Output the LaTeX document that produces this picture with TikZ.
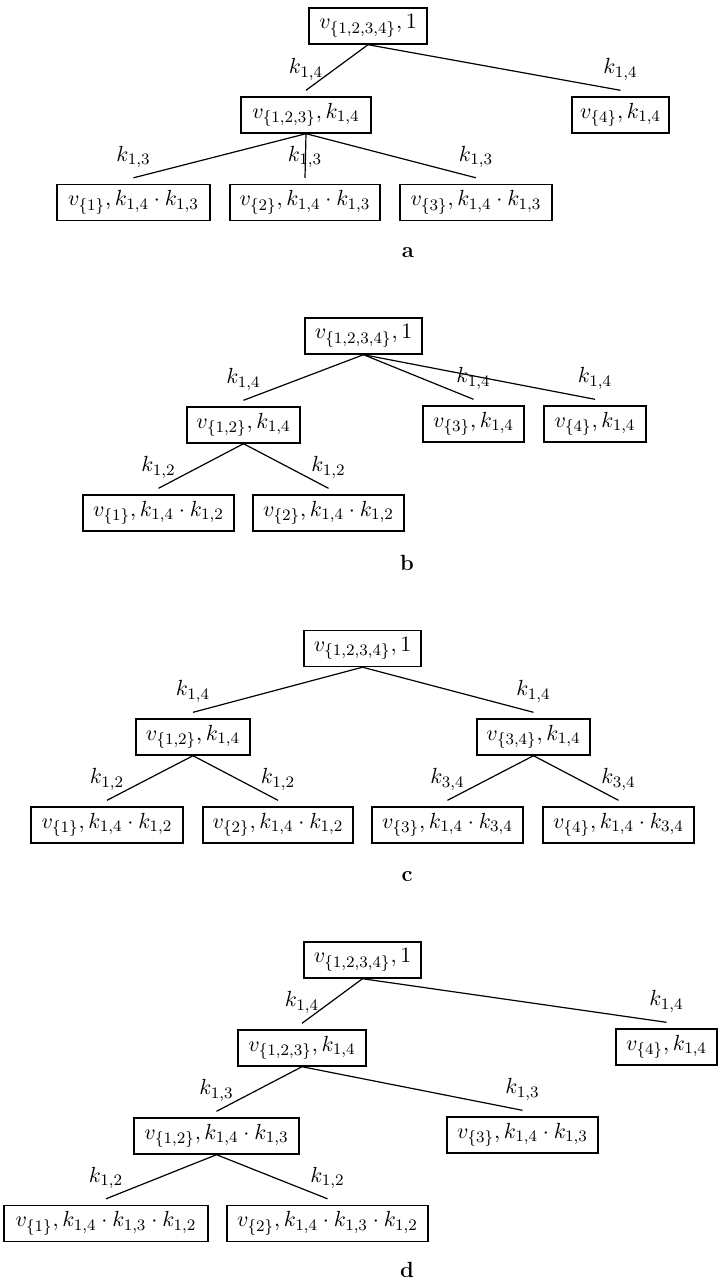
\documentclass[tikz,border=0pt]{standalone}
\usepackage{amsmath}
\newcommand\treeedge[3]{%
  \draw[conn] (#1.south) -- ([yshift=3pt]#2.north);
  \node[lab] (l#2) at ([yshift=13.5pt]#2.north) {$#3$};}
\begin{document}
\begin{tikzpicture}[x=0.5pt,y=-0.5pt,
  font=\fontsize{11}{13}\selectfont,
  box/.style={draw, line width=0.7pt, minimum height=18pt, inner xsep=3pt, inner ysep=1pt, minimum width=#1*0.5pt},
  conn/.style={line width=0.6pt},
  lab/.style={inner sep=0pt},
  capt/.style={font=\fontsize{11}{13}\selectfont\bfseries}]
\useasboundingbox (0,0) rectangle (719,1282);
% ---------- a ----------
\node[box=118] (aR) at (368,26) {$v_{\{1,2,3,4\}}, 1$};
\node[box=130] (a123) at (306,115) {$v_{\{1,2,3\}}, k_{1,4}$};
\node[box=97] (a4) at (620.5,115) {$v_{\{4\}}, k_{1,4}$};
\node[box=153] (a1) at (133.5,202.5) {$v_{\{1\}}, k_{1,4}\cdot k_{1,3}$};
\node[box=150] (a2) at (305,202.5) {$v_{\{2\}}, k_{1,4}\cdot k_{1,3}$};
\node[box=152] (a3) at (476,202.5) {$v_{\{3\}}, k_{1,4}\cdot k_{1,3}$};
\treeedge{aR}{a123}{k_{1,4}}
\treeedge{aR}{a4}{k_{1,4}}
\treeedge{a123}{a1}{k_{1,3}}
\treeedge{a123}{a2}{k_{1,3}}
\treeedge{a123}{a3}{k_{1,3}}
\node[capt] (capa) at (408,253) {a};
% ---------- b ----------
\node[box=117] (bR) at (363.5,336) {$v_{\{1,2,3,4\}}, 1$};
\node[box=113] (b12) at (243.5,425) {$v_{\{1,2\}}, k_{1,4}$};
\node[box=101] (b3) at (473.5,424) {$v_{\{3\}}, k_{1,4}$};
\node[box=102] (b4) at (595,424) {$v_{\{4\}}, k_{1,4}$};
\node[box=151] (b1) at (158.5,513) {$v_{\{1\}}, k_{1,4}\cdot k_{1,2}$};
\node[box=151] (b2) at (328.5,513) {$v_{\{2\}}, k_{1,4}\cdot k_{1,2}$};
\treeedge{bR}{b12}{k_{1,4}}
\treeedge{bR}{b3}{k_{1,4}}
\treeedge{bR}{b4}{k_{1,4}}
\treeedge{b12}{b1}{k_{1,2}}
\treeedge{b12}{b2}{k_{1,2}}
\node[capt] (capb) at (407,563) {b};
% ---------- c ----------
\node[box=117] (cR) at (362.5,648.5) {$v_{\{1,2,3,4\}}, 1$};
\node[box=114] (c12) at (193,737) {$v_{\{1,2\}}, k_{1,4}$};
\node[box=113] (c34) at (533.5,737) {$v_{\{3,4\}}, k_{1,4}$};
\node[box=152] (c1) at (107,825) {$v_{\{1\}}, k_{1,4}\cdot k_{1,2}$};
\node[box=150] (c2) at (278,825) {$v_{\{2\}}, k_{1,4}\cdot k_{1,2}$};
\node[box=151] (c3) at (447.5,825) {$v_{\{3\}}, k_{1,4}\cdot k_{3,4}$};
\node[box=151] (c4) at (618.5,825) {$v_{\{4\}}, k_{1,4}\cdot k_{3,4}$};
\treeedge{cR}{c12}{k_{1,4}}
\treeedge{cR}{c34}{k_{1,4}}
\treeedge{c12}{c1}{k_{1,2}}
\treeedge{c12}{c2}{k_{1,2}}
\treeedge{c34}{c3}{k_{3,4}}
\treeedge{c34}{c4}{k_{3,4}}
\node[capt] (capc) at (407,877) {c};
% ---------- d ----------
\node[box=117] (dR) at (362.5,960) {$v_{\{1,2,3,4\}}, 1$};
\node[box=128] (d123) at (302,1048) {$v_{\{1,2,3\}}, k_{1,4}$};
\node[box=101] (d4) at (666.5,1047) {$v_{\{4\}}, k_{1,4}$};
\node[box=165] (d12) at (216.5,1136) {$v_{\{1,2\}}, k_{1,4}\cdot k_{1,3}$};
\node[box=151] (d3) at (522.5,1135) {$v_{\{3\}}, k_{1,4}\cdot k_{1,3}$};
\node[box=204] (d1) at (106,1223.5) {$v_{\{1\}}, k_{1,4}\cdot k_{1,3}\cdot k_{1,2}$};
\node[box=201] (d2) at (327.5,1223.5) {$v_{\{2\}}, k_{1,4}\cdot k_{1,3}\cdot k_{1,2}$};
\treeedge{dR}{d123}{k_{1,4}}
\treeedge{dR}{d4}{k_{1,4}}
\treeedge{d123}{d12}{k_{1,3}}
\treeedge{d123}{d3}{k_{1,3}}
\treeedge{d12}{d1}{k_{1,2}}
\treeedge{d12}{d2}{k_{1,2}}
\node[capt] (capd) at (407,1270) {d};
\end{tikzpicture}
\end{document}
